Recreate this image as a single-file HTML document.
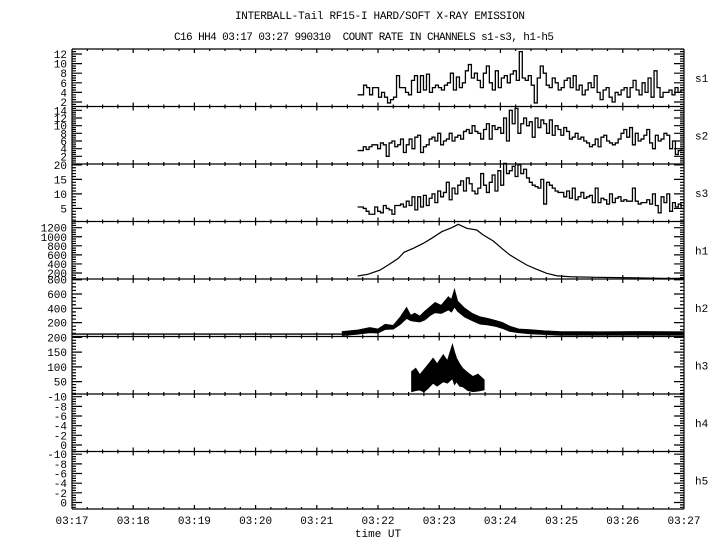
<!DOCTYPE html>
<html><head><meta charset="utf-8"><style>
html,body{margin:0;padding:0;background:#fff;}
svg{display:block;}
text{font-family:"Liberation Mono",monospace;font-size:11px;fill:#000;}
</style></head><body>
<svg id="chart" width="720" height="550" viewBox="0 0 720 550">
<text x="380" y="19" text-anchor="middle" textLength="290">INTERBALL-Tail RF15-I HARD/SOFT X-RAY EMISSION</text>
<text x="364" y="40" text-anchor="middle" textLength="380" xml:space="preserve">C16 HH4 03:17 03:27 990310  COUNT RATE IN CHANNELS s1-s3, h1-h5</text>
<text x="378" y="537" text-anchor="middle">time UT</text>
</svg>
<script>
// ---- data ----
const timeLabels = ["03:17","03:18","03:19","03:20","03:21","03:22","03:23","03:24","03:25","03:26","03:27"];
const panelNames = ["s1","s2","s3","h1","h2","h3","h4","h5"];
const s1Values = [3.5,3.5,5.5,5,3.5,5,5,3,4,3,1.8,2.5,3,7.5,5,5,4,3.5,6.5,7.5,4,7.5,4.5,7.8,4,5,5.5,5,4.5,5.5,6,8,4.5,7.2,5,6,8.5,9.8,7,8,6.5,5,8,9.5,6,4.5,8.5,5,7,7.5,6,7.8,8.5,6.5,12.5,7,6.5,7.5,5.5,1.8,7,9.5,8,5.5,5,7,6,4.5,5,6.5,7,5,7.5,4.5,5.5,3.5,4.5,6,5,7.5,4,2.5,4.5,5,3,2,4,3.5,4.5,5,3,5,6.5,4.5,3.5,6,4,7,3,8.5,5,3,4,4,4.5,3.5,5,4,4.5];
const s2Values = [3.5,3.5,4.5,3.8,4.5,5,5,4,5.5,5,2,5.5,6,4.5,5,6.5,3,5,6.5,4,7,7.5,3,4.5,5,6.5,7,6,8,5,6,6.5,8,6,7,7.5,6.5,8.5,9,8,10,8.5,8,6.5,9,10.5,6.5,10,9,9.5,8,12,6,14,10.5,14.5,8,10.5,12,10,11,7,12,9.5,11.5,10.5,8,11.5,7.5,10,9,7.5,9.5,8.5,6.5,7,8,6.5,7,6,5.5,4.5,5,6.5,4.5,7,7.5,6,5.5,5,5.5,6.5,8,9,7,9.5,5,8,6,6.5,7.5,9,5.5,4,7.5,6,6.5,8,7.5,4,6,2.5,3.5,4];
const s3Values = [5.5,5.5,5,4,3,3,5.5,4,3.5,6,5,4.5,3,6,6,6.5,5.5,7.5,6,9,4.5,9,5.5,9.5,6,8.5,10,7,11,9,10.5,14,8,12,10,13,14.5,11,15.5,13.5,11,10,12,17,13,10.5,14,16.5,11,18,13,20.5,17,18,19.5,16,20,17,18.5,15.5,14,13,12.5,12,15,6.5,14,13,12,11,10.5,10.5,9,11,8.5,12,8,9,10.5,8.5,9,9.5,7,12,7,8.5,8,6.5,10,7,8.5,9,7.5,8,7.5,7.5,12,7.5,6.5,7,7,8,6.5,10,6,3.5,9,7,10,4,7,5.5,6.5,5];
const h1Times = [280,290,302,310,320,325.5,334.6,344.4,352.6,362.5,372.3,378.7,387,396.8,403.2,413,421.3,429.4,437.5,445.8,455.6,465.4,475.2,488.2,514.4,547,579.7,600];
const h1Values = [134,171,266,377,525,657,745,855,966,1112,1200,1275,1187,1150,1040,906,745,597,487,377,282,193,140,118,105,96,83,83];
const h2Times = [265,280,292,300,307,315,322,328,332,336,341,346,351,356,362,369,372,375,378,385,392,400,407,415,422,429,438,449,463,478,518,560,600];
const h2High = [75,95,130,110,175,160,280,410,300,330,290,360,420,480,440,560,520,660,500,400,330,280,260,230,200,150,110,100,85,75,70,75,70];
const h2Low = [20,40,60,55,105,110,180,260,230,220,210,240,300,340,330,380,350,420,360,280,230,180,170,150,120,80,60,45,35,25,25,25,25];
const h2Baseline = 40;
const h3Times = [333,337,341,345,349,354,358,364,368,373,375,377,380,383,388,393,398,404];
const h3High = [84,95,73,90,107,129,110,141,120,175,150,129,110,95,80,67,75,56];
const h3Low = [16,20,22,15,27,45,35,50,45,61,40,50,35,33,20,16,18,22];
const sStart = 280, sEnd = 600;

// ---- layout ----
const svg = document.getElementById('chart');
const NS = 'http://www.w3.org/2000/svg';
const X0 = 72, X1 = 684, TOP = 49, PH = 57.5;
const xs = s => X0 + s * (X1 - X0) / 600;
const panels = [
 {vt:13.04, vb:1.06, major:[2,4,6,8,10,12], minor:0.5},
 {vt:15, vb:0, major:[2,4,6,8,10,12,14], minor:0.5},
 {vt:20.3, vb:0.5, major:[5,10,15,20], minor:1},
 {vt:1337, vb:68, major:[200,400,600,800,1000,1200], minor:50},
 {vt:810, vb:6, major:[200,400,600,800], minor:50},
 {vt:203, vb:8, major:[50,100,150,200], minor:10},
 {vt:-10.56, vb:1.35, major:[-10,-8,-6,-4,-2,0], minor:0.5},
 {vt:-10.56, vb:1.35, major:[-10,-8,-6,-4,-2,0], minor:0.5}
];
function yf(p, v){ const P = panels[p]; const t = TOP + p*PH; return t + (P.vt - v)/(P.vt - P.vb)*PH; }
function mk(tag, attrs){ const e = document.createElementNS(NS, tag); for (const k in attrs) e.setAttribute(k, attrs[k]); svg.appendChild(e); return e; }

let d = '';
for (let i = 0; i <= 8; i++) { const y = TOP + i*PH; d += `M${X0} ${y}H${X1}`; }
d += `M${X0} ${TOP}V${TOP+8*PH}M${X1} ${TOP}V${TOP+8*PH}`;
for (let i = 0; i <= 8; i++) {
  const y = TOP + i*PH;
  for (let q = 1; q < 40; q++) {
    const x = xs(q*15); const L = (q % 4 === 0) ? 4 : 2;
    d += `M${x} ${y - (i>0?L:0)}V${y + (i<8?L:0)}`;
  }
}
panels.forEach((P, p) => {
  const lo = Math.min(P.vt, P.vb), hi = Math.max(P.vt, P.vb);
  for (let v = Math.ceil(lo/P.minor)*P.minor; v <= hi; v += P.minor) {
    const y = yf(p, v);
    const isMaj = P.major.some(m => Math.abs(m - v) < 1e-6);
    const L = isMaj ? 10 : 4;
    d += `M${X0} ${y}h${L}M${X1} ${y}h${-L}`;
  }
});
const axes = mk('path', {d: d, stroke:'#000', 'stroke-width':1.2, fill:'none'});



panels.forEach((P, p) => {
  P.major.forEach(m => {
    const t = mk('text', {x: 67, y: yf(p, m) + 4, 'text-anchor':'end'});
    t.textContent = String(m);
    
    
  });
  const n = mk('text', {x: 695, y: TOP + p*PH + PH/2 + 4});
  n.textContent = panelNames[p];
  
  
});
timeLabels.forEach((lab, i) => {
  const t = mk('text', {x: xs(i*60), y: 524, 'text-anchor':'middle'});
  t.textContent = lab;
  
  
});

function stepPath(p, vals){
  const w = (sEnd - sStart) / vals.length;
  let s = `M${xs(sStart)} ${yf(p, vals[0])}`;
  vals.forEach((v, i) => { s += `V${yf(p, v)}H${xs(sStart + (i+1)*w)}`; });
  return s;
}
[[0, s1Values], [1, s2Values], [2, s3Values]].forEach(([p, vals]) => {
  const e = mk('path', {d: stepPath(p, vals), stroke:'#000', 'stroke-width':1.3, fill:'none'});
  
  
});
let h1d = `M${xs(h1Times[0])} ${yf(3, h1Values[0])}`;
for (let i = 1; i < h1Times.length; i++) h1d += `L${xs(h1Times[i])} ${yf(3, h1Values[i])}`;
const h1 = mk('path', {d: h1d, stroke:'#000', 'stroke-width':1.2, fill:'none'});


function band(p, T, H, L){
  let s = '';
  T.forEach((t, i) => { s += (i ? 'L' : 'M') + xs(t) + ' ' + yf(p, H[i]); });
  for (let i = T.length - 1; i >= 0; i--) s += 'L' + xs(T[i]) + ' ' + yf(p, L[i]);
  return s + 'Z';
}
const h2b = mk('path', {d: `M${X0} ${yf(4, h2Baseline)}H${xs(h2Times[0])}`, stroke:'#000', 'stroke-width':1.3, fill:'none'});


const h2 = mk('path', {d: band(4, h2Times, h2High, h2Low), fill:'#000', stroke:'#000', 'stroke-width':1, 'stroke-linejoin':'miter'});


const h3 = mk('path', {d: band(5, h3Times, h3High, h3Low), fill:'#000', stroke:'#000', 'stroke-width':1, 'stroke-linejoin':'miter'});


</script>
</body></html>
